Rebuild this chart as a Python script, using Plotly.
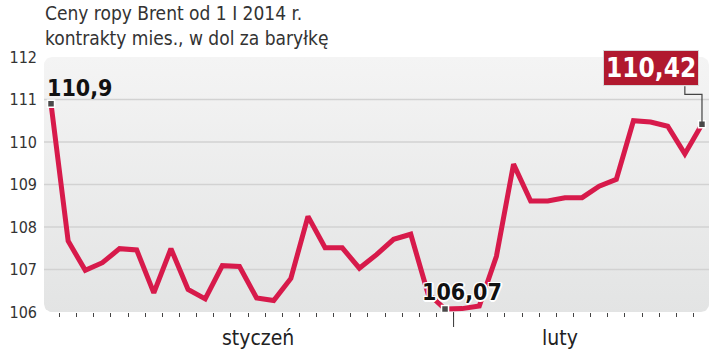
import numpy as np
import plotly.graph_objects as go

# ---------------- data ----------------
day_index = list(range(39))
brent_prices = [110.9, 107.67, 106.98, 107.16, 107.49, 107.46, 106.45, 107.49, 106.53,
                106.31, 107.09, 107.07, 106.33, 106.27, 106.79, 108.25, 107.51, 107.51,
                107.03, 107.35, 107.71, 107.83, 106.44, 106.07, 106.08, 106.14, 107.31,
                109.48, 108.61, 108.61, 108.69, 108.69, 108.96, 109.12, 110.5, 110.47,
                110.37, 109.72, 110.42]
y_tick_vals = [106, 107, 108, 109, 110, 111, 112]
grid_vals = [107, 108, 109, 110, 111]
month_names = ["styczeń", "luty"]
month_label_pos = [12.1, 29.7]
month_boundary = 23.5
highlight_idx = [0, 23, 38]
highlight_text = ["110,9", "106,07", "110,42"]

TITLE = "Ceny ropy Brent od 1 I 2014 r.<br>kontrakty mies., w dol za baryłkę"
FONT = "DejaVu Sans Condensed, DejaVu Sans, sans-serif"

X0, X1 = -0.41, 38.41
Y0, Y1 = 106, 112
ML, MR, MT, MB = 44, 11, 57, 51
W, H = 720, 363
pxx = (W - ML - MR) / (X1 - X0)
pxy = (H - MT - MB) / (Y1 - Y0)

fig = go.Figure()

# rounded background panel
r = 8
rx, ry = r / pxx, r / pxy
corners = [(X1 - rx, Y1 - ry, 0, 90), (X0 + rx, Y1 - ry, 90, 180),
           (X0 + rx, Y0 + ry, 180, 270), (X1 - rx, Y0 + ry, 270, 360)]
bx, by = [], []
for cx, cy, a0, a1 in corners:
    t = np.radians(np.linspace(a0, a1, 10))
    bx += list(cx + rx * np.cos(t))
    by += list(cy + ry * np.sin(t))
bx.append(bx[0]); by.append(by[0])
fig.add_trace(go.Scatter(
    x=bx, y=by, mode="lines", fill="toself", line=dict(width=0),
    fillgradient=dict(type="vertical", colorscale=[[0, "#e3e4e4"], [1, "#f4f4f4"]]),
    hoverinfo="skip", showlegend=False, cliponaxis=False))

# gridlines
for g in grid_vals:
    fig.add_trace(go.Scatter(x=[X0, X1], y=[g, g], mode="lines",
                             line=dict(color="#d2d2d2", width=1.5),
                             hoverinfo="skip", showlegend=False))

# main line
fig.add_trace(go.Scatter(x=day_index, y=brent_prices, mode="lines",
                         line=dict(color="#d71a4b", width=5),
                         showlegend=False, cliponaxis=False))

# highlighted points
fig.add_trace(go.Scatter(x=[day_index[i] for i in highlight_idx],
                         y=[brent_prices[i] for i in highlight_idx],
                         mode="markers",
                         marker=dict(symbol="square", size=7, color="#4a4a4a",
                                     line=dict(color="white", width=1.5)),
                         showlegend=False, cliponaxis=False))

annotations = [
    dict(text=TITLE, xref="paper", yref="paper", x=0, y=1 + 57 / (H - MT - MB),
         xanchor="left", yanchor="top", align="left", showarrow=False, xshift=-1,
         font=dict(family=FONT, size=19, color="#333333")),
    dict(text=highlight_text[0], x=day_index[0], y=brent_prices[0], xanchor="left",
         yanchor="bottom", showarrow=False, xshift=-6, yshift=1,
         font=dict(family=FONT, size=23, color="#111111", weight="bold")),
    dict(text=highlight_text[1], x=day_index[23], y=brent_prices[23], xanchor="center",
         yanchor="middle", showarrow=False, xshift=17, yshift=17,
         font=dict(family=FONT, size=23, color="#111111", weight="bold",
                   shadow="-1px -1px 0 #fff, 1px -1px 0 #fff, -1px 1px 0 #fff, 1px 1px 0 #fff, 0 2px 0 #fff, 2px 0 0 #fff")),
    dict(text=highlight_text[2], x=day_index[38], y=111.31, xanchor="right",
         yanchor="bottom", showarrow=False, xshift=-3,
         bgcolor="#b1192f", bordercolor="#d8d8d8", borderwidth=1, borderpad=2,
         font=dict(family=FONT, size=26, color="#ffffff", weight="bold")),
]
for name, pos in zip(month_names, month_label_pos):
    annotations.append(dict(text=name, x=pos, xref="x", yref="paper", y=0, yshift=-26,
                            xanchor="center", yanchor="middle", showarrow=False,
                            font=dict(family=FONT, size=21, color="#222222")))

fig.add_shape(type="path", xref="x", yref="y",
              path=f"M 37,111.31 V 111.12 H 38 V {brent_prices[38]}",
              line=dict(color="#444444", width=1.2))
fig.add_shape(type="line", xref="x", yref="paper", x0=month_boundary, x1=month_boundary,
              y0=0, y1=-15 / (H - MT - MB), line=dict(color="#333333", width=1))

fig.update_layout(
    width=W, height=H, margin=dict(l=ML, r=MR, t=MT, b=MB),
    paper_bgcolor="white", plot_bgcolor="rgba(0,0,0,0)",
    annotations=annotations,
    xaxis=dict(range=[X0, X1], showgrid=False, zeroline=False, showline=False,
               tickmode="linear", tick0=0.5, dtick=1, ticks="outside", ticklen=4,
               tickcolor="#444444", tickwidth=1, showticklabels=False),
    yaxis=dict(range=[Y0, Y1], showgrid=False, zeroline=False, showline=False,
               tickvals=y_tick_vals, ticks="", ticklabelstandoff=6,
               tickfont=dict(family=FONT, size=16, color="#333333")),
)

fig.write_html("out.html")
